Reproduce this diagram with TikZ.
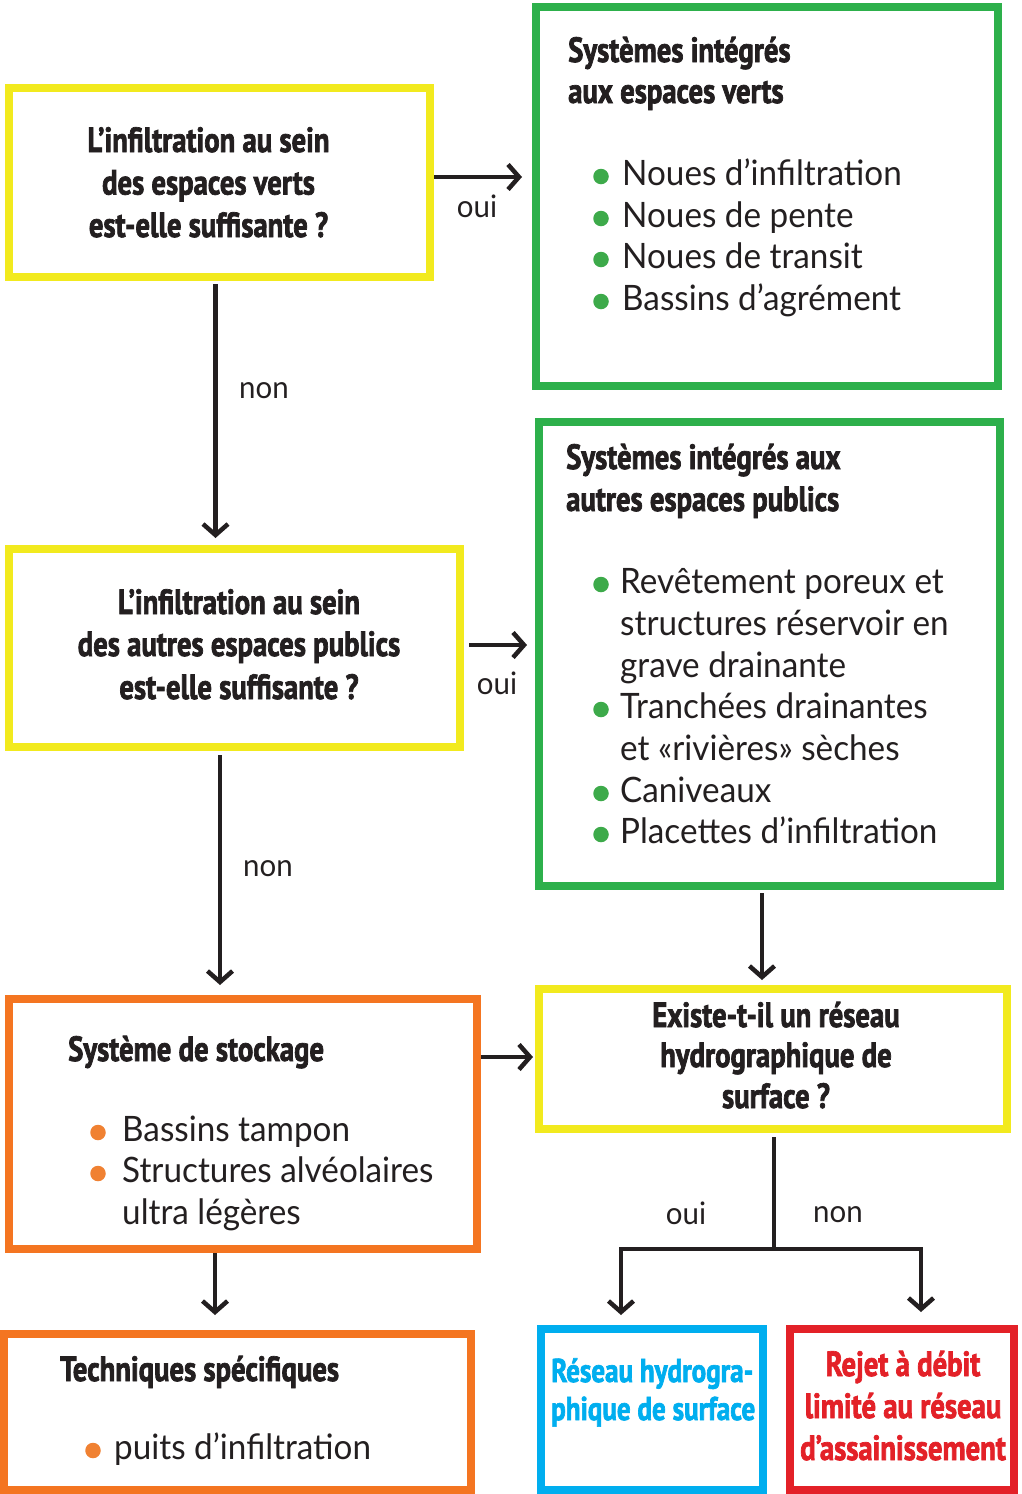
\documentclass[tikz,border=0pt]{standalone}
\usepackage{fontspec}
\setmainfont{Lato}[FakeStretch=0.95]
\newfontfamily\tf{PT Sans}[FakeStretch=0.82, FakeBold=2]
\usetikzlibrary{arrows.meta}
\definecolor{ylw}{HTML}{F2EA1E}
\definecolor{grn}{HTML}{2DB04B}
\definecolor{org}{HTML}{F47521}
\definecolor{blu}{HTML}{00AEEF}
\definecolor{rd}{HTML}{E32128}
\definecolor{dotg}{HTML}{3DAA4A}
\definecolor{doto}{HTML}{F08132}
\definecolor{ink}{HTML}{231F20}
\begin{document}
\begin{tikzpicture}[x=1pt,y=-1pt,
  box/.style={draw=#1, line width=8pt, outer sep=4pt, inner sep=0pt, fill=white},
  ttl/.style={font={\tf\bfseries\fontsize{35pt}{42pt}\selectfont}, text=ink, inner sep=0pt},
  sml/.style={font={\tf\bfseries\fontsize{33pt}{40pt}\selectfont}, inner sep=0pt},
  bd/.style={font={\fontsize{35pt}{42pt}\selectfont}, text=ink, inner sep=0pt, anchor=base west},
  lbl/.style={font={\fontsize{31pt}{37pt}\selectfont}, text=ink, inner sep=0pt, anchor=base},
  dot/.style={circle, fill=#1, minimum size=15.5pt, inner sep=0pt},
  arr/.style={line width=4.5pt, draw=ink, -{Straight Barb[length=11pt,width=25pt]}},
  ln/.style={line width=4.5pt, draw=ink}]
\useasboundingbox (0,0) rectangle (1021,1494);
% boxes
\node[box=ylw, minimum width=421pt, minimum height=189pt] (q1) at (219.5,182.5) {};
\node[box=grn, minimum width=462pt, minimum height=379pt] (g1) at (767,196.5) {};
\node[box=ylw, minimum width=451pt, minimum height=198pt] (q2) at (234.5,648) {};
\node[box=grn, minimum width=461pt, minimum height=464pt] (g2) at (769.5,654) {};
\node[box=org, minimum width=468pt, minimum height=250pt] (o1) at (243,1124) {};
\node[box=ylw, minimum width=468pt, minimum height=140pt] (q3) at (773,1059) {};
\node[box=org, minimum width=467pt, minimum height=156pt] (o2) at (237.5,1412) {};
\node[box=blu, minimum width=222pt, minimum height=161pt] (b) at (652,1409.5) {};
\node[box=rd, minimum width=224pt, minimum height=161pt] (r) at (902,1409.5) {};
% q1 text
\node[ttl, anchor=base] (q1a) at (208.5,152) {L’infiltration au sein};
\node[ttl, anchor=base] (q1b) at (208.5,194.5) {des espaces verts};
\node[ttl, anchor=base] (q1c) at (208.5,237) {est-elle suffisante ?};
% g1 text
\node[ttl, anchor=base west] (g1a) at (568,62) {Systèmes intégrés};
\node[ttl, anchor=base west] (g1b) at (568,103) {aux espaces verts};
\node[bd] (g1c) at (622,185) {Noues d’infiltration};
\node[bd] (g1d) at (622,227) {Noues de pente};
\node[bd] (g1e) at (622,268) {Noues de transit};
\node[bd] (g1f) at (622,310) {Bassins d’agrément};
\node[dot=dotg] (d1) at (601,176.5) {};
\node[dot=dotg] (d2) at (601,218.5) {};
\node[dot=dotg] (d3) at (601,259.5) {};
\node[dot=dotg] (d4) at (601,301.5) {};
% q2 text
\node[ttl, anchor=base] (q2a) at (239,614) {L’infiltration au sein};
\node[ttl, anchor=base] (q2b) at (239,656) {des autres espaces publics};
\node[ttl, anchor=base] (q2c) at (239,699) {est-elle suffisante ?};
% g2 text
\node[ttl, anchor=base west] (g2a) at (566,469) {Systèmes intégrés aux};
\node[ttl, anchor=base west] (g2b) at (566,511) {autres espaces publics};
\node[bd] (g2c) at (620,593) {Revêtement poreux et};
\node[bd] (g2d) at (620,635) {structures réservoir en};
\node[bd] (g2e) at (620,677) {grave drainante};
\node[bd] (g2f) at (620,718) {Tranchées drainantes};
\node[bd] (g2g) at (620,760) {et «rivières» sèches};
\node[bd] (g2h) at (620,802) {Caniveaux};
\node[bd] (g2i) at (620,843) {Placettes d’infiltration};
\node[dot=dotg] (d5) at (601,584.5) {};
\node[dot=dotg] (d6) at (601,709.5) {};
\node[dot=dotg] (d7) at (601,793.5) {};
\node[dot=dotg] (d8) at (601,834.5) {};
% o1 text
\node[ttl, anchor=base west] (o1a) at (68,1061) {Système de stockage};
\node[bd] (o1b) at (122,1141) {Bassins tampon};
\node[bd] (o1c) at (122,1182) {Structures alvéolaires};
\node[bd] (o1d) at (122,1224) {ultra légères};
\node[dot=doto] (d9) at (98,1132.5) {};
\node[dot=doto] (d10) at (98,1173.5) {};
% q3 text
\node[ttl, anchor=base] (q3a) at (776,1027) {Existe-t-il un réseau};
\node[ttl, anchor=base] (q3b) at (776,1067) {hydrographique de};
\node[ttl, anchor=base] (q3c) at (776,1108) {surface ?};
% o2 text
\node[ttl, anchor=base west] (o2a) at (60,1381) {Techniques spécifiques};
\node[bd] (o2b) at (114,1459) {puits d’infiltration};
\node[dot=doto] (d11) at (93,1450.5) {};
% blue & red
\node[sml, text=blu, anchor=base west] (ba) at (551,1382) {Réseau hydrogra-};
\node[sml, text=blu, anchor=base west] (bb) at (551,1420) {phique de surface};
\node[ttl, text=rd, anchor=base] (ra) at (903,1376) {Rejet à débit};
\node[ttl, text=rd, anchor=base] (rb) at (903,1418) {limité au réseau};
\node[ttl, text=rd, anchor=base] (rc) at (903,1460) {d’assainissement};
% connectors
\draw[arr, shorten >=10pt] ([yshift=5.5pt]q1.east) coordinate (s1) -- (s1 -| g1.west);
\draw[arr, shorten <=3pt, shorten >=7pt] ([xshift=-4pt]q1.south) coordinate (s2) -- (s2 |- q2.north);
\draw[arr, shorten <=5pt, shorten >=8pt] ([yshift=3pt]q2.east) coordinate (s3) -- (s3 -| g2.west);
\draw[arr, shorten <=4pt, shorten >=10pt] ([xshift=-14.5pt]q2.south) coordinate (s4) -- (s4 |- o1.north);
\draw[arr, shorten <=3pt, shorten >=5pt] ([xshift=-7.5pt]g2.south) coordinate (s5) -- (s5 |- q3.north);
\draw[arr, shorten >=2pt] ([yshift=67pt]o1.east) coordinate (s6) -- (s6 -| q3.west);
\draw[arr, shorten >=15pt] ([xshift=-28pt]o1.south) coordinate (s7) -- (s7 |- o2.north);
\coordinate (split) at (774,1249);
\draw[ln, shorten <=4pt] ([xshift=1pt]q3.south) -- (split);
\draw[arr, shorten >=10pt] (split) -| ([xshift=-31pt]b.north);
\draw[arr, shorten >=13pt] (split) -| ([xshift=19pt]r.north);
% labels
\node[lbl] (l1) at (477,217) {oui};
\node[lbl] (l2) at (264,398) {non};
\node[lbl] (l3) at (497,694) {oui};
\node[lbl] (l4) at (268,876) {non};
\node[lbl] (l5) at (686,1224) {oui};
\node[lbl] (l6) at (838,1222) {non};
\end{tikzpicture}
\end{document}
